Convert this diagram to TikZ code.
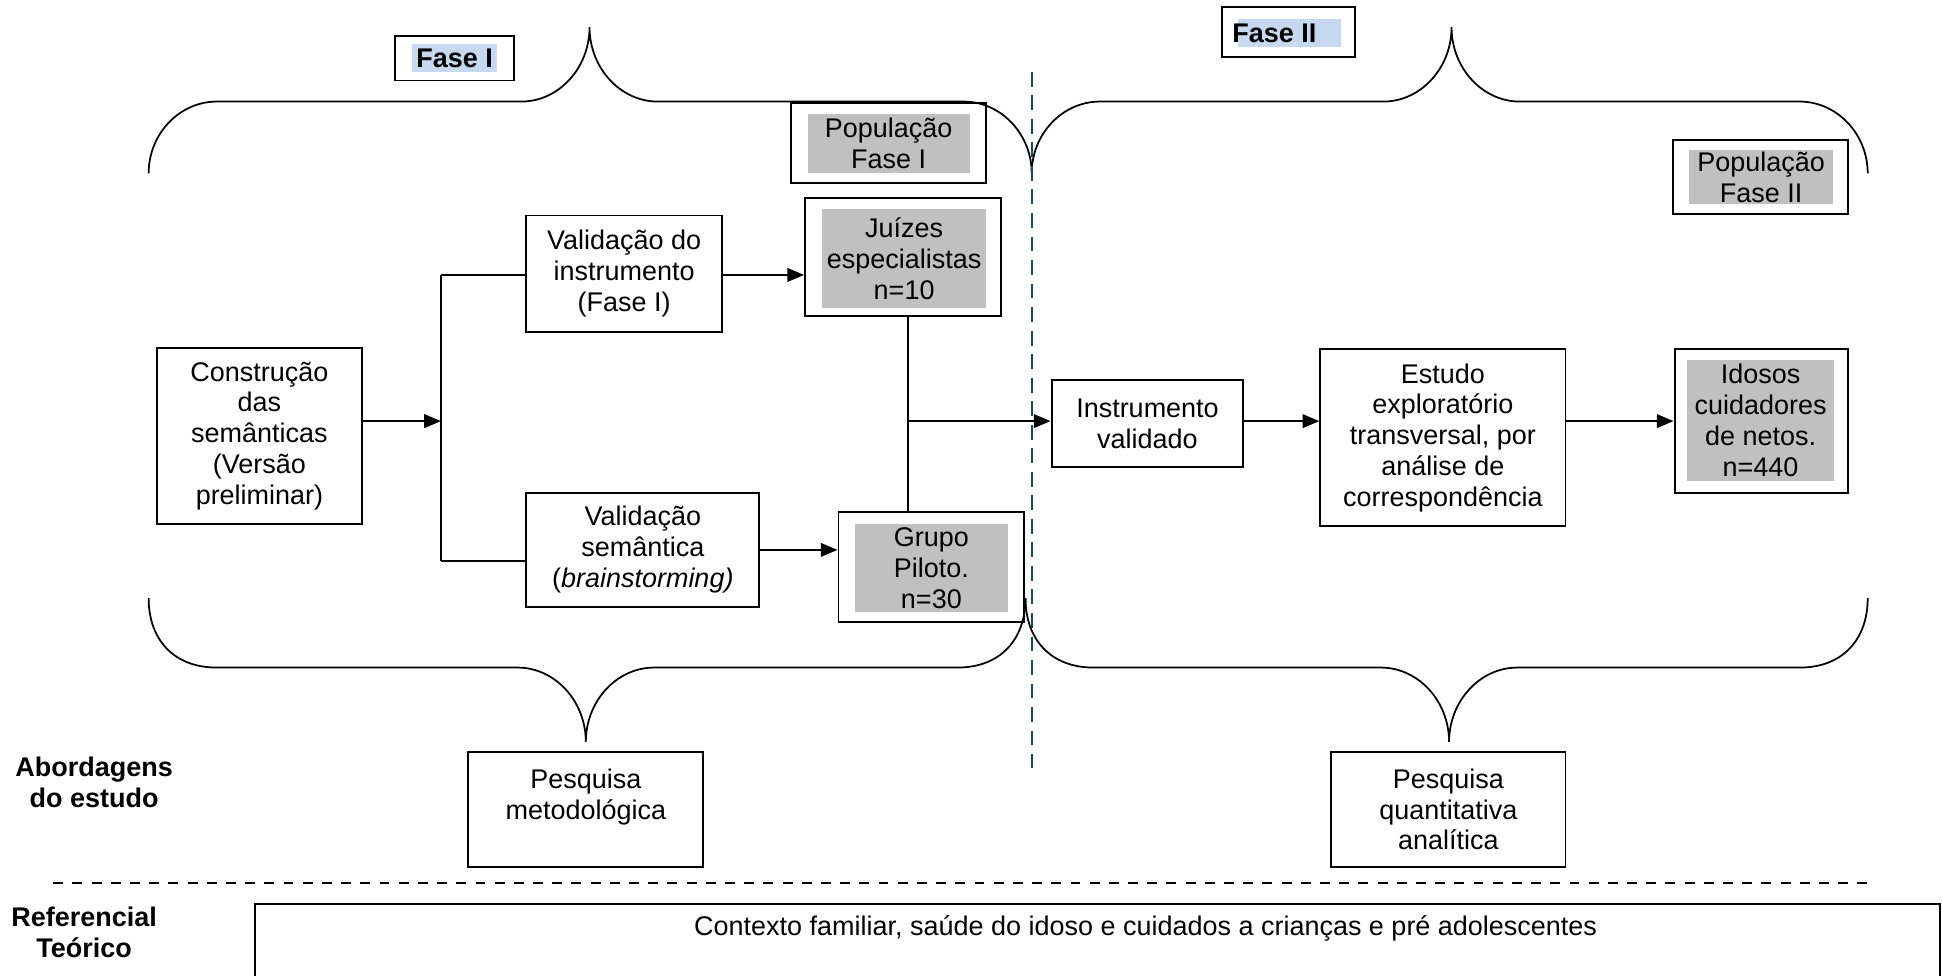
\documentclass[tikz,border=0pt]{standalone}
\usepackage{fontspec}
\setmainfont{Liberation Sans}
\usetikzlibrary{arrows.meta}
\definecolor{grayfill}{HTML}{C0C0C0}
\definecolor{bluehl}{HTML}{C6D9F1}
\definecolor{sepcol}{HTML}{1F4A5C}
\begin{document}
\begin{tikzpicture}[x=0.02cm, y=-0.02cm,
  every node/.style={font=\fontsize{12.4}{14.2}\selectfont},
  box/.style={draw, line width=0.9pt, align=center, inner sep=0pt},
  shadebox/.style={fill=grayfill, inner sep=0pt, align=center},
  hlbox/.style={fill=bluehl, inner sep=0pt},
  lab/.style={align=center, inner sep=0pt, font=\fontsize{12.4}{14.2}\selectfont\bfseries},
  conn/.style={line width=0.9pt},
  arr/.style={line width=0.9pt, -{Triangle[length=0.27cm,width=0.22cm]}},
  brace/.style={line width=0.8pt},
  vsep/.style={draw=sepcol, line width=1.1pt, dash pattern=on 0.24cm off 0.14cm},
  hsep/.style={line width=0.9pt, dash pattern=on 0.16cm off 0.15cm},
]
\useasboundingbox (0,0) rectangle (1568,788);
\clip (0,0) rectangle (1568,788);

% phase labels
\node[box, minimum width=1.92cm, minimum height=0.72cm] (f1) at (367,47) {};
\node[hlbox, minimum width=1.36cm, minimum height=0.46cm, font=\fontsize{12.4}{14.2}\selectfont\bfseries] (f1t) at (367,47) {Fase I};
\node[box, minimum width=2.14cm, minimum height=0.8cm] (f2) at (1040.5,26) {};
\node[hlbox, minimum width=1.66cm, minimum height=0.46cm] (f2h) at (1041,26.5) {};
\node[lab] (f2t) at (1029,27) {Fase II};

% braces
\draw[brace] (120,140) .. controls (120,108) and (145,82) .. (175,82) -- (421,82)
  .. controls (451,82) and (476,55) .. (476,22) .. controls (476,55) and (501,82) .. (531,82)
  -- (778,82) .. controls (808,82) and (833,108) .. (833,140);
\draw[brace] (833,140) .. controls (833,108) and (858,82) .. (888,82) -- (1117,82)
  .. controls (1147,82) and (1172,55) .. (1172,22) .. controls (1172,55) and (1197,82) .. (1227,82)
  -- (1453,82) .. controls (1483,82) and (1508,108) .. (1508,140);
\draw[brace] (120,483) .. controls (120,516) and (140,539) .. (175,539) -- (418,539)
  .. controls (448,539) and (473,566) .. (473,599) .. controls (473,566) and (498,539) .. (528,539)
  -- (773,539) .. controls (808,539) and (828,516) .. (828,483);
\draw[brace] (828,483) .. controls (828,516) and (848,539) .. (883,539) -- (1115,539)
  .. controls (1145,539) and (1170,566) .. (1170,599) .. controls (1170,566) and (1195,539) .. (1225,539)
  -- (1453,539) .. controls (1488,539) and (1508,516) .. (1508,483);

% separator
\coordinate (dtop) at (833,58);
\coordinate (dbot) at (833,620);
\draw[vsep] (dtop) -- (dbot);

% population boxes
\node[box, minimum width=3.14cm, minimum height=1.3cm] (popI) at (717.5,115.5) {};
\node[shadebox, minimum width=2.62cm, minimum height=0.96cm] (popIt) at (717.5,116) {População\\Fase I};
\node[box, minimum width=2.82cm, minimum height=1.2cm] (popII) at (1421.5,143) {};
\node[shadebox, minimum width=2.32cm, minimum height=0.88cm] (popIIt) at (1422,143) {População\\Fase II};

% phase I flow
\node[box, minimum width=3.3cm, minimum height=2.84cm] (constr) at (209.5,352)
  {Construção\\das\\semânticas\\(Versão\\preliminar)};
\node[box, minimum width=3.16cm, minimum height=1.88cm] (valI) at (504,221)
  {Validação do\\instrumento\\(Fase I)};
\node[box, minimum width=3.16cm, minimum height=1.9cm] (juizes) at (729,207.5) {};
\node[shadebox, minimum width=2.64cm, minimum height=1.6cm] (juizest) at (730,209)
  {Juízes\\especialistas\\n=10};
\node[box, minimum width=3.76cm, minimum height=1.84cm] (valS) at (519,444)
  {Validação\\semântica\\(\textit{brainstorming)}};
\node[box, minimum width=3.0cm, minimum height=1.78cm] (grupo) at (752,457.5) {};
\node[shadebox, minimum width=2.48cm, minimum height=1.42cm] (grupot) at (752,458.5)
  {Grupo\\Piloto.\\n=30};

% phase II flow
\node[box, minimum width=3.1cm, minimum height=1.4cm] (instr) at (926.5,342)
  {Instrumento\\validado};
\node[box, minimum width=3.96cm, minimum height=2.86cm] (estudo) at (1165,353.5)
  {Estudo\\exploratório\\transversal, por\\análise de\\correspondência};
\node[box, minimum width=2.8cm, minimum height=2.32cm] (idosos) at (1422,340) {};
\node[shadebox, minimum width=2.38cm, minimum height=1.96cm] (idosost) at (1421.5,339.5)
  {Idosos\\cuidadores\\de netos.\\n=440};

% connectors
\coordinate (brtop) at (356,222);
\coordinate (brbot) at (356,453);
\coordinate (brmid) at (356,340);
\coordinate (jg) at (733,340);
\draw[arr] (constr.east |- brmid) -- (brmid);
\draw[conn] (brtop) -- (brbot);
\draw[conn] (brtop) -- (brtop -| valI.west);
\draw[conn] (brbot) -- (brbot -| valS.west);
\draw[arr] (valI.east |- brtop) -- (brtop -| juizes.west);
\draw[arr] (valS.east) -- (valS.east -| grupo.west);
\draw[conn] (jg |- juizes.south) -- (jg |- grupo.north);
\draw[arr] (jg) -- (jg -| instr.west);
\draw[arr] (instr.east |- jg) -- (jg -| estudo.west);
\draw[arr] (estudo.east |- jg) -- (jg -| idosos.west);

% approaches
\node[lab] (abord) at (76,632) {Abordagens\\do estudo};
\node[box, minimum width=3.8cm, minimum height=1.86cm] (pmet) at (473,653.5)
  {Pesquisa\\metodológica\\\mbox{}};
\node[box, minimum width=3.78cm, minimum height=1.86cm] (pquant) at (1169.5,653.5)
  {Pesquisa\\quantitativa\\analítica};

% horizontal separator
\coordinate (hs1) at (43,713);
\coordinate (hs2) at (1512,713);
\draw[hsep] (hs1) -- (hs2);

% theoretical framework
\node[lab] (refl) at (68,753) {Referencial\\Teórico};
\node[box, minimum width=27.22cm, minimum height=2cm, anchor=north west] (refbox) at (205,729) {};
\node (reft) at (925,750) {Contexto familiar, saúde do idoso e cuidados a crianças e pré adolescentes};
\end{tikzpicture}
\end{document}
